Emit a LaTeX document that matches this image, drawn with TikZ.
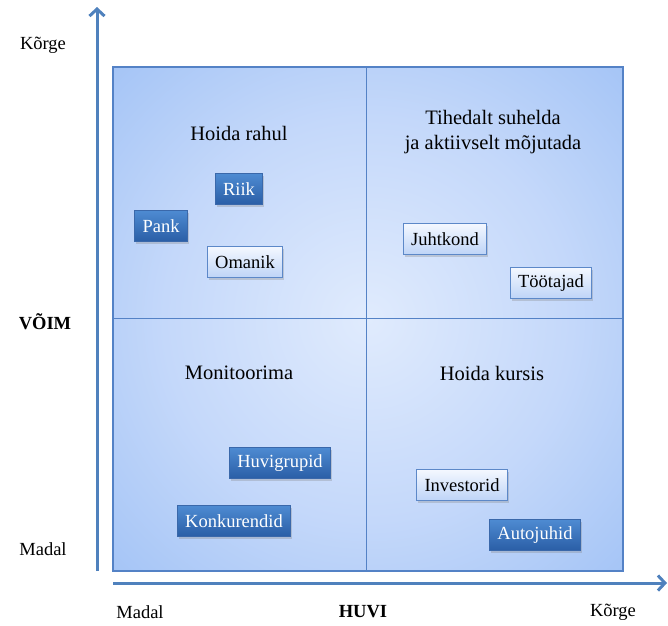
\documentclass[tikz,border=0pt]{standalone}
\usepackage{fontspec}
\setmainfont{Liberation Serif}
\usetikzlibrary{arrows.meta,shadows}

\definecolor{axisblue}{RGB}{79,129,189}
\definecolor{gridline}{RGB}{84,130,198}
\definecolor{fieldin}{RGB}{224,235,253}
\definecolor{fieldmid}{RGB}{196,216,250}
\definecolor{fieldout}{RGB}{164,196,246}
\definecolor{darktop}{RGB}{78,139,210}
\definecolor{darkbot}{RGB}{42,94,166}
\definecolor{darkedge}{RGB}{58,104,170}
\definecolor{lighttop}{RGB}{244,248,255}
\definecolor{lightbot}{RGB}{190,212,247}
\definecolor{lightedge}{RGB}{92,136,200}

% light centre, deeper blue towards the corners of the field
\pgfdeclareradialshading{fieldshade}{\pgfpointorigin}{%
  color(0bp)=(fieldin); color(20bp)=(fieldmid); color(36bp)=(fieldout);
  color(50bp)=(fieldout)}

\newcommand{\titlefont}{\fontsize{20.5}{25}\selectfont}
\newcommand{\labelfont}{\fontsize{18.5}{22}\selectfont}

\tikzset{
  axis/.style={draw=axisblue, line width=3pt,
    -{Straight Barb[length=7pt,width=15pt]}},
  field/.style={shading=fieldshade, draw=gridline, line width=1.2pt},
  divider/.style={draw=gridline, line width=1pt},
  quadtitle/.style={font=\titlefont, align=center, inner sep=0pt},
  axislabel/.style={font=\labelfont, inner sep=0pt},
  boxbase/.style={font=\labelfont, minimum height=31pt, inner xsep=8pt,
    inner ysep=0pt, line width=0.9pt,
    drop shadow={opacity=0.3, shadow xshift=1.5pt, shadow yshift=-2pt}},
  darkbox/.style={boxbase, draw=darkedge, top color=darktop,
    bottom color=darkbot, text=white},
  lightbox/.style={boxbase, draw=lightedge, top color=lighttop,
    bottom color=lightbot, text=black},
}

\begin{document}
\begin{tikzpicture}[x=1pt, y=-1pt]
  \useasboundingbox (0,0) rectangle (668,625);

  % field and quadrant dividers
  \path[field] (113,67) rectangle (623,571);
  \coordinate (vtop) at (366,67);
  \coordinate (vbot) at (366,571);
  \coordinate (hleft) at (113,318);
  \coordinate (hright) at (623,318);
  \draw[divider] (vtop) -- (vbot);
  \draw[divider] (hleft) -- (hright);

  % axes
  \coordinate (yfoot) at (97,571);
  \coordinate (ytip) at (97,7);
  \coordinate (xfoot) at (113,583);
  \coordinate (xtip) at (667,583);
  \draw[axis] (yfoot) -- (ytip);
  \draw[axis] (xfoot) -- (xtip);

  % axis labels
  \node[axislabel] (yhigh) at (43,45) {Kõrge};
  \node[axislabel, font=\labelfont\bfseries] (ytitle) at (45,322) {VÕIM};
  \node[axislabel] (ylow) at (43,549) {Madal};
  \node[axislabel] (xlow) at (140,612) {Madal};
  \node[axislabel, font=\labelfont\bfseries] (xtitle) at (363,612) {HUVI};
  \node[axislabel] (xhigh) at (613,612) {Kõrge};

  % quadrant titles
  \node[quadtitle] (q1) at (239,133) {Hoida rahul};
  \node[quadtitle] (q2) at (493,132) {Tihedalt suhelda\\ja aktiivselt mõjutada};
  \node[quadtitle] (q3) at (239,373) {Monitoorima};
  \node[quadtitle] (q4) at (492,373) {Hoida kursis};

  % stakeholders
  \node[darkbox]  (riik)      at (239,189) {Riik};
  \node[darkbox]  (pank)      at (161,226) {Pank};
  \node[lightbox] (omanik)    at (245,262) {Omanik};
  \node[lightbox] (juhtkond)  at (445,239) {Juhtkond};
  \node[lightbox] (tootajad)  at (551,283) {Töötajad};
  \node[darkbox]  (huvi)      at (280,463) {Huvigrupid};
  \node[darkbox]  (konk)      at (234,521) {Konkurendid};
  \node[lightbox] (investor)  at (462,485) {Investorid};
  \node[darkbox]  (autojuhid) at (535,535) {Autojuhid};
\end{tikzpicture}
\end{document}
